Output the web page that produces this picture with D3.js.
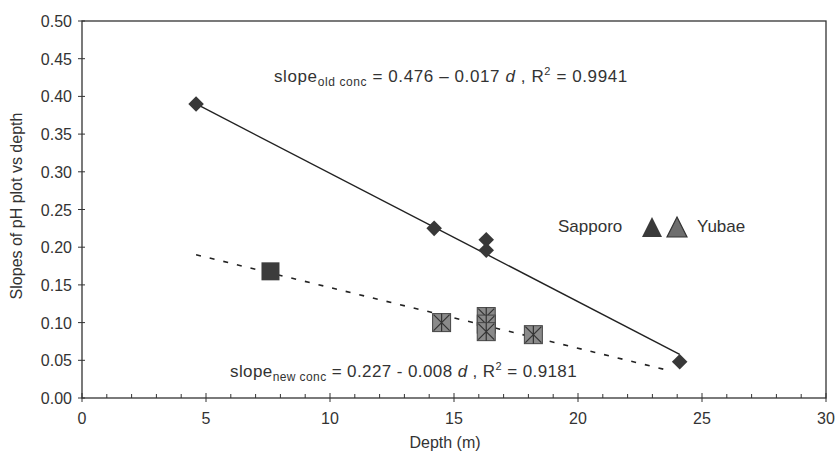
<!DOCTYPE html>
<html>
<head>
<meta charset="utf-8">
<script src="https://cdn.jsdelivr.net/npm/d3@7"></script>
<style>
  body { margin: 0; background: #fff; }
  svg text { font-family: "Liberation Sans", Arial, sans-serif; fill: #333; }
</style>
</head>
<body>
<div id="chart"></div>
<script>
// data
const oldDepth = [4.6, 14.2, 16.3, 16.3, 24.1];
const oldSlope = [0.39, 0.225, 0.21, 0.196, 0.048];
const newDarkDepth = [7.6];
const newDarkSlope = [0.168];
const newGreyDepth = [14.5, 16.3, 16.3, 16.3, 18.2];
const newGreySlope = [0.1, 0.108, 0.098, 0.088, 0.084];
const oldFit = [[4.6, 0.39], [24.1, 0.058]];
const newFit = [[4.6, 0.19], [23.6, 0.037]];
const xTicks = [0, 5, 10, 15, 20, 25, 30];
const yTicks = [0, 0.05, 0.1, 0.15, 0.2, 0.25, 0.3, 0.35, 0.4, 0.45, 0.5];

const margin = { top: 21, right: 12, bottom: 59, left: 82 };
const W = 838, H = 457;
const width = W - margin.left - margin.right;
const height = H - margin.top - margin.bottom;

const svg = d3.select("#chart").append("svg")
  .attr("width", W).attr("height", H)
  .append("g")
  .attr("transform", `translate(${margin.left},${margin.top})`);

const x = d3.scaleLinear().domain([0, 30]).range([0, width]);
const y = d3.scaleLinear().domain([0, 0.5]).range([height, 0]);

// frame
svg.append("rect").attr("width", width).attr("height", height)
  .attr("fill", "none").attr("stroke", "#333").attr("stroke-width", 1.3);

// x axis: minor ticks up, majors cross
const xMinor = d3.range(1, 30).filter(d => d % 5 != 0);
svg.append("g").selectAll("line").data(xMinor).join("line")
  .attr("x1", d => x(d)).attr("x2", d => x(d))
  .attr("y1", height).attr("y2", height - 4)
  .attr("stroke", "#333");
svg.append("g").selectAll("line").data(xTicks).join("line")
  .attr("x1", d => x(d)).attr("x2", d => x(d))
  .attr("y1", height - 5).attr("y2", height + 4)
  .attr("stroke", "#333");
svg.append("g").selectAll("text").data(xTicks).join("text")
  .attr("x", d => x(d)).attr("y", height + 26)
  .attr("text-anchor", "middle").attr("font-size", 16)
  .text(d => d);

// y axis
svg.append("g").selectAll("line").data(yTicks).join("line")
  .attr("x1", -4).attr("x2", 3)
  .attr("y1", d => y(d)).attr("y2", d => y(d))
  .attr("stroke", "#333");
svg.append("g").selectAll("text").data(yTicks).join("text")
  .attr("x", -10).attr("y", d => y(d) + 6)
  .attr("text-anchor", "end").attr("font-size", 16)
  .text(d => d3.format(".2f")(d));

// axis titles
svg.append("text")
  .attr("x", 445 - margin.left).attr("y", height + 50)
  .attr("text-anchor", "middle").attr("font-size", 16)
  .text("Depth (m)");
svg.append("text")
  .attr("transform", `translate(${22 - margin.left},${206 - margin.top}) rotate(-90)`)
  .attr("text-anchor", "middle").attr("font-size", 16)
  .text("Slopes of pH plot vs depth");

// fit lines
const line = d3.line().x(d => x(d[0])).y(d => y(d[1]));
svg.append("path").datum(oldFit).attr("d", line)
  .attr("fill", "none").attr("stroke", "#222").attr("stroke-width", 1.4);
svg.append("path").datum(newFit).attr("d", line)
  .attr("fill", "none").attr("stroke", "#222").attr("stroke-width", 1.6)
  .attr("stroke-dasharray", "5,9");

// old conc diamonds
svg.append("g").selectAll("rect").data(oldDepth).join("rect")
  .attr("x", -5.5).attr("y", -5.5).attr("width", 11).attr("height", 11)
  .attr("transform", (d, i) => `translate(${x(d)},${y(oldSlope[i])}) rotate(45)`)
  .attr("fill", "#383838");

// new conc dark square
svg.append("g").selectAll("rect").data(newDarkDepth).join("rect")
  .attr("x", d => x(d) - 9).attr("y", (d, i) => y(newDarkSlope[i]) - 9)
  .attr("width", 18).attr("height", 18)
  .attr("fill", "#3c3c3c");

// new conc grey squares with star
const grey = svg.append("g").selectAll("g").data(newGreyDepth).join("g")
  .attr("transform", (d, i) => `translate(${x(d)},${y(newGreySlope[i])})`);
grey.append("rect")
  .attr("x", -9).attr("y", -9).attr("width", 18).attr("height", 18)
  .attr("fill", "#8a8a8a").attr("stroke", "#444").attr("stroke-width", 1);
grey.append("path")
  .attr("d", "M-8,-8L8,8M8,-8L-8,8M0,-9L0,9")
  .attr("stroke", "#333").attr("stroke-width", 1.2);

// equations
const eq1 = svg.append("text")
  .attr("x", 274 - margin.left).attr("y", 82 - margin.top)
  .attr("font-size", 17).attr("letter-spacing", 0.6);
eq1.append("tspan").text("slope");
eq1.append("tspan").attr("font-size", 12).attr("dy", 4).text("old conc");
eq1.append("tspan").attr("dy", -4).text(" = 0.476 \u2013 0.017 ");
eq1.append("tspan").attr("font-style", "italic").text("d");
eq1.append("tspan").text(" , R");
eq1.append("tspan").attr("font-size", 11).attr("dy", -7).text("2");
eq1.append("tspan").attr("dy", 7).text(" = 0.9941");

const eq2 = svg.append("text")
  .attr("x", 230 - margin.left).attr("y", 377 - margin.top)
  .attr("font-size", 17).attr("letter-spacing", 0.4);
eq2.append("tspan").text("slope");
eq2.append("tspan").attr("font-size", 12).attr("dy", 4).text("new conc");
eq2.append("tspan").attr("dy", -4).text(" = 0.227 - 0.008 ");
eq2.append("tspan").attr("font-style", "italic").text("d");
eq2.append("tspan").text(" , R");
eq2.append("tspan").attr("font-size", 11).attr("dy", -7).text("2");
eq2.append("tspan").attr("dy", 7).text(" = 0.9181");

// legend
const lg = svg.append("g").attr("transform", `translate(${558 - margin.left},${232 - margin.top})`);
lg.append("text").attr("x", 0).attr("y", 0).attr("font-size", 17).text("Sapporo");
lg.append("path").attr("d", "M94,-15L104,5L84,5Z").attr("fill", "#3a3a3a");
lg.append("path").attr("d", "M119,-15L129,5L109,5Z")
  .attr("fill", "#6e6e6e").attr("stroke", "#333").attr("stroke-width", 1.2);
lg.append("text").attr("x", 139).attr("y", 0).attr("font-size", 17).text("Yubae");
</script>
</body>
</html>
